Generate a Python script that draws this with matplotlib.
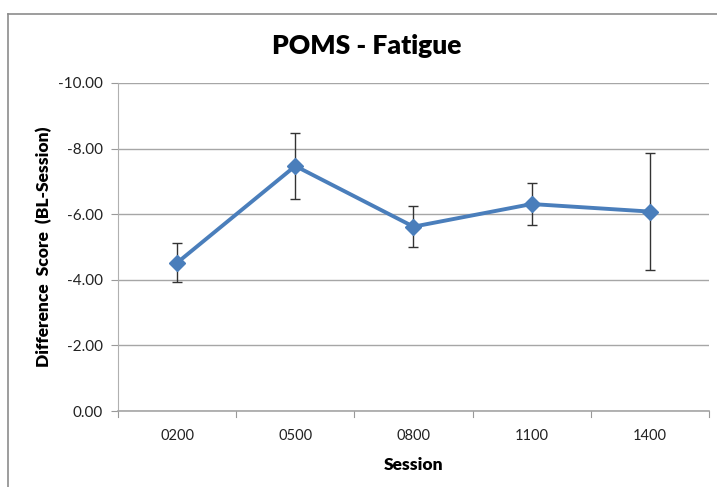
import matplotlib
matplotlib.use("Agg")
import matplotlib.pyplot as plt
from matplotlib.lines import Line2D
import numpy as np

sessions = ["0200", "0500", "0800", "1100", "1400"]
diff_score = [-4.52, -7.47, -5.62, -6.31, -6.08]
err = [0.60, 1.01, 0.63, 0.65, 1.79]
y_ticks = [0, -2, -4, -6, -8, -10]

plt.rcParams["font.family"] = ["Lato", "DejaVu Sans"]

fig = plt.figure(figsize=(7.17, 4.87), dpi=100)
ax = fig.add_axes([0.1646, 0.156, 0.9888 - 0.1646, 0.8296 - 0.156])

x = np.arange(len(sessions))
ax.errorbar(x, diff_score, yerr=err, fmt="none", ecolor="#333333",
            elinewidth=1.0, capsize=3.5, capthick=1.0, zorder=2)
ax.plot(x, diff_score, color="#4a7ebb", lw=2.8, marker="D", ms=8,
        mec="#4a7ebb", mfc="#4a7ebb", zorder=3)

ax.set_xlim(-0.5, len(sessions) - 0.5)
ax.set_ylim(0, -10)
ax.set_yticks(y_ticks)
ax.set_yticklabels([f"{v:.2f}" if v != 0 else "0.00" for v in y_ticks])
ax.set_xticks(x)
ax.set_xticklabels(sessions)
ax.tick_params(axis="x", length=0, pad=13, labelsize=10.5, colors="#222222")
ax.tick_params(axis="y", length=5, width=0.8, color="#999999", pad=6,
               labelsize=11, labelcolor="#222222")

# category boundary ticks on the x axis
for b in np.arange(-0.5, len(sessions), 1.0):
    ax.plot([b, b], [0, 0.18], color="#999999", lw=0.8, clip_on=False, zorder=1)

ax.grid(axis="y", color="#a6a6a6", lw=1.0)
ax.set_axisbelow(True)
for s in ["top", "right"]:
    ax.spines[s].set_visible(False)
ax.spines["left"].set_color("#b0b0b0")
ax.spines["bottom"].set_color("#a6a6a6")
ax.spines["bottom"].set_linewidth(1.2)

ax.set_xlabel("Session", fontsize=12.5, fontweight="heavy", labelpad=10)
ax.set_ylabel("Difference  Score  (BL-Session)", fontsize=12.5,
              fontweight="heavy", labelpad=4)
fig.text(0.512, 0.905, "POMS - Fatigue", ha="center", va="center",
         fontsize=19, fontweight="heavy")

# chart frame (top and left visible)
fig.add_artist(Line2D([0.0115, 1.0], [0.972, 0.972], transform=fig.transFigure,
                      color="#8c8c8c", lw=1.2))
fig.add_artist(Line2D([0.0115, 0.0115], [0.0, 0.972], transform=fig.transFigure,
                      color="#8c8c8c", lw=1.2))

fig.savefig("out.png", dpi=100)
